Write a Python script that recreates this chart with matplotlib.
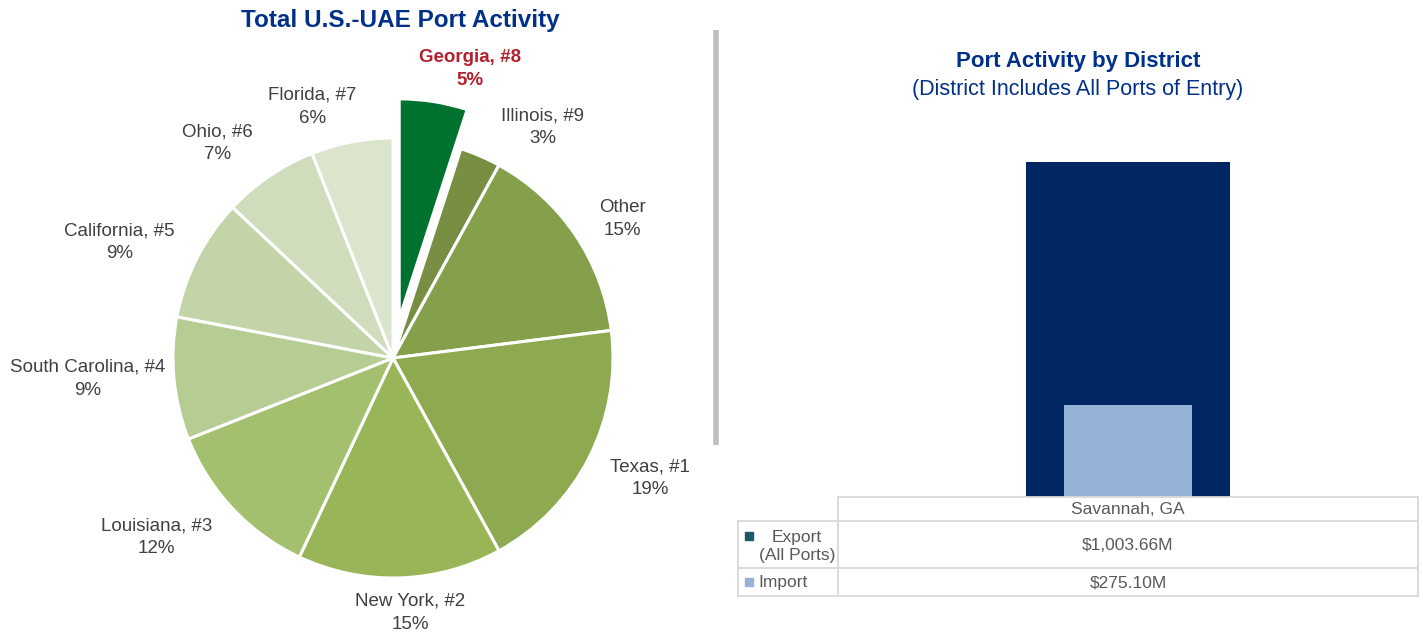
import matplotlib
matplotlib.use('Agg')
import matplotlib.pyplot as plt
import numpy as np

plt.rcParams['font.family'] = ['Liberation Sans', 'DejaVu Sans']

# pie data (clockwise from 12 o'clock)
states = ['Georgia', 'Illinois', 'Other', 'Texas', 'New York', 'Louisiana',
          'South Carolina', 'California', 'Ohio', 'Florida']
ranks = ['#8', '#9', '', '#1', '#2', '#3', '#4', '#5', '#6', '#7']
shares = [5, 3, 15, 19, 15, 12, 9, 9, 7, 6]

# bar / table data
district = 'Savannah, GA'
flow_names = ['Export\n(All Ports)', 'Import']
flow_values = [1003.66, 275.10]

pie_colors = ['#00722F', '#788F43', '#84A04A', '#8DAA50', '#98B658', '#A2C06E',
              '#B5CC92', '#C3D4A8', '#CFDDBC', '#DBE5CC']
explode = [0.18, 0, 0, 0, 0, 0, 0, 0, 0, 0]
# label placement: radial distance and angle nudge (deg) from wedge middle
label_r = [1.36, 1.25, 1.22, 1.29, 1.16, 1.35, 1.39, 1.35, 1.26, 1.20]
label_dt = [-6, -9.5, -3, 2, 2, -6, -1.5, 4, 5, 7]

W, H = 1423, 635
fig = plt.figure(figsize=(W / 100, H / 100), dpi=100)

# ---- pie (1 unit = 220 px, centre at px (393, 358))
R = 220.0
cx, cy = 393, 358
pax = fig.add_axes([0, 0, 710 / W, 1])
wedges, _ = pax.pie(shares, startangle=90, counterclock=False, colors=pie_colors,
                    explode=explode, wedgeprops=dict(edgecolor='white', linewidth=2.2))
pax.set_xlim(-cx / R, (710 - cx) / R)
pax.set_ylim(-(H - cy) / R, cy / R)
pax.set_aspect('auto')
pax.axis('off')

for i, w in enumerate(wedges):
    mid = np.deg2rad((w.theta1 + w.theta2) / 2 + label_dt[i])
    txt = states[i] + (', ' + ranks[i] if ranks[i] else '') + '\n' + str(shares[i]) + '%'
    if i == 0:
        pax.text(label_r[i] * np.cos(mid), label_r[i] * np.sin(mid), txt, ha='center',
                 va='center', fontsize=13.5, fontweight='bold', color='#B5202E', linespacing=1.45)
    else:
        pax.text(label_r[i] * np.cos(mid), label_r[i] * np.sin(mid), txt, ha='center',
                 va='center', fontsize=13.5, color='#404040', linespacing=1.45)

# ---- bars (overlapping, single district)
bax = fig.add_axes([838 / W, (H - 497) / H, 580 / W, (497 - 150) / H])
bax.bar(0, flow_values[0], width=0.353, color='#002664')
bax.bar(0, flow_values[1], width=0.219, color='#95B3D7')
bax.set_xlim(-0.5, 0.5)
bax.set_ylim(0, flow_values[0] * 1.036)
bax.axis('off')

# ---- overlay in pixel coords: titles, divider, data table
ov = fig.add_axes([0, 0, 1, 1])
ov.set_xlim(0, W)
ov.set_ylim(H, 0)
ov.axis('off')
ov.patch.set_alpha(0)

navy = '#003087'
ov.text(400, 21, 'Total U.S.-UAE Port Activity', ha='center', va='center',
        fontsize=17.5, fontweight='bold', color=navy)
ov.text(1078, 62, 'Port Activity by District', ha='center', va='center',
        fontsize=16, fontweight='bold', color=navy)
ov.text(1078, 89, '(District Includes All Ports of Entry)', ha='center', va='center',
        fontsize=15.5, color=navy)

ov.plot([716, 716], [30, 445], color='#BFBFBF', lw=4, solid_capstyle='butt')

grid = '#D9D9D9'
tl, tm, tr = 738, 838, 1418
rows = [497, 521, 568, 596]
ov.plot([tm, tr], [rows[0], rows[0]], color=grid, lw=1.3)
for y in rows[1:]:
    ov.plot([tl, tr], [y, y], color=grid, lw=1.3)
ov.plot([tm, tm], [rows[0], rows[-1]], color=grid, lw=1.3)
ov.plot([tr, tr], [rows[0], rows[-1]], color=grid, lw=1.3)
ov.plot([tl, tl], [rows[1], rows[-1]], color=grid, lw=1.3)

tc = '#595959'
fs_t = 12.5
mid_x = (tm + tr) / 2
ov.text(mid_x, (rows[0] + rows[1]) / 2 + 1, district, ha='center', va='center', fontsize=fs_t, color=tc)
ov.text(mid_x, (rows[1] + rows[2]) / 2 + 1, '$' + f'{flow_values[0]:,.2f}' + 'M',
        ha='center', va='center', fontsize=fs_t, color=tc)
ov.text(mid_x, (rows[2] + rows[3]) / 2 + 1, '$' + f'{flow_values[1]:,.2f}' + 'M',
        ha='center', va='center', fontsize=fs_t, color=tc)

# legend keys inside row headers
ov.add_patch(plt.Rectangle((745, 532), 8, 8, color='#1F5A6B'))
ov.add_patch(plt.Rectangle((745, 578), 8, 8, color='#95B3D7'))
ov.text(797, (rows[1] + rows[2]) / 2 + 2, flow_names[0], ha='center', va='center',
        fontsize=fs_t, color=tc, linespacing=1.2)
ov.text(758, (rows[2] + rows[3]) / 2 + 1, flow_names[1], ha='left', va='center',
        fontsize=fs_t, color=tc)

fig.savefig('out.png', dpi=100)
